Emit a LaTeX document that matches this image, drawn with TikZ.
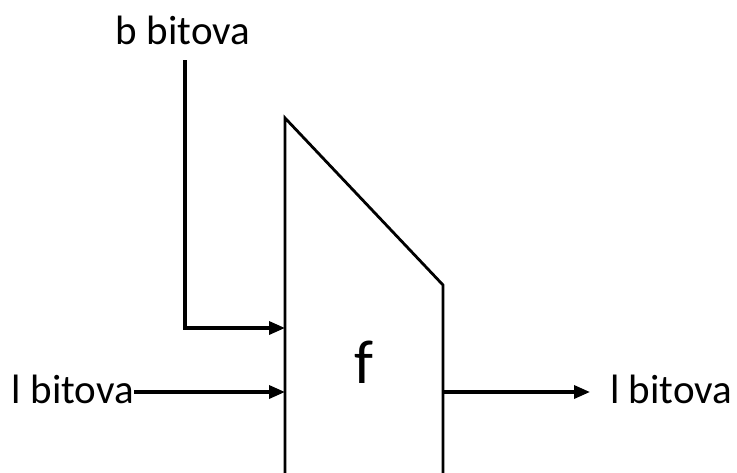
\documentclass[tikz,border=0pt]{standalone}
\usepackage{fontspec}
\setmainfont{Carlito}
\usetikzlibrary{arrows.meta,positioning,calc}

\begin{document}
\begin{tikzpicture}[
  x=1pt, y=-1pt,
  >={Triangle[length=16pt,width=13pt]},
  label/.style={font=\fontsize{41}{45}\selectfont, inner sep=0pt},
  arrow/.style={->, line width=3.4pt}
]
\useasboundingbox (0,0) rectangle (737,472);

% block f (open at the bottom)
\coordinate (fTopLeft) at (285,118);
\coordinate (fTopRight) at (443,285);
\coordinate (fBotLeft) at (285,474);
\coordinate (fBotRight) at (443,474);
\draw[line width=2.8pt] (fBotLeft) -- (fTopLeft) -- (fTopRight) -- (fBotRight);
\node[font=\fontsize{62}{66}\selectfont, inner sep=0pt] (fLabel) at (364,362) {f};

% inputs and output
\node[label] (keyIn) at (183,30) {b bitova};
\node[label, anchor=east] (dataIn) at (134,389) {l bitova};
\node[label, anchor=west] (dataOut) at (610,389) {l bitova};

\coordinate (keyTop) at (185,60);
\coordinate (keyCorner) at (185,328);
\coordinate (keyEnd) at (285,328);
\coordinate (dataInEnd) at (285,392);
\coordinate (dataOutStart) at (443,392);
\coordinate (dataOutEnd) at (590,392);

\draw[arrow] (keyTop) -- (keyCorner) -- (keyEnd);
\draw[arrow] (dataIn.east |- dataInEnd) -- (dataInEnd);
\draw[arrow] (dataOutStart) -- (dataOutEnd);

\end{tikzpicture}
\end{document}
